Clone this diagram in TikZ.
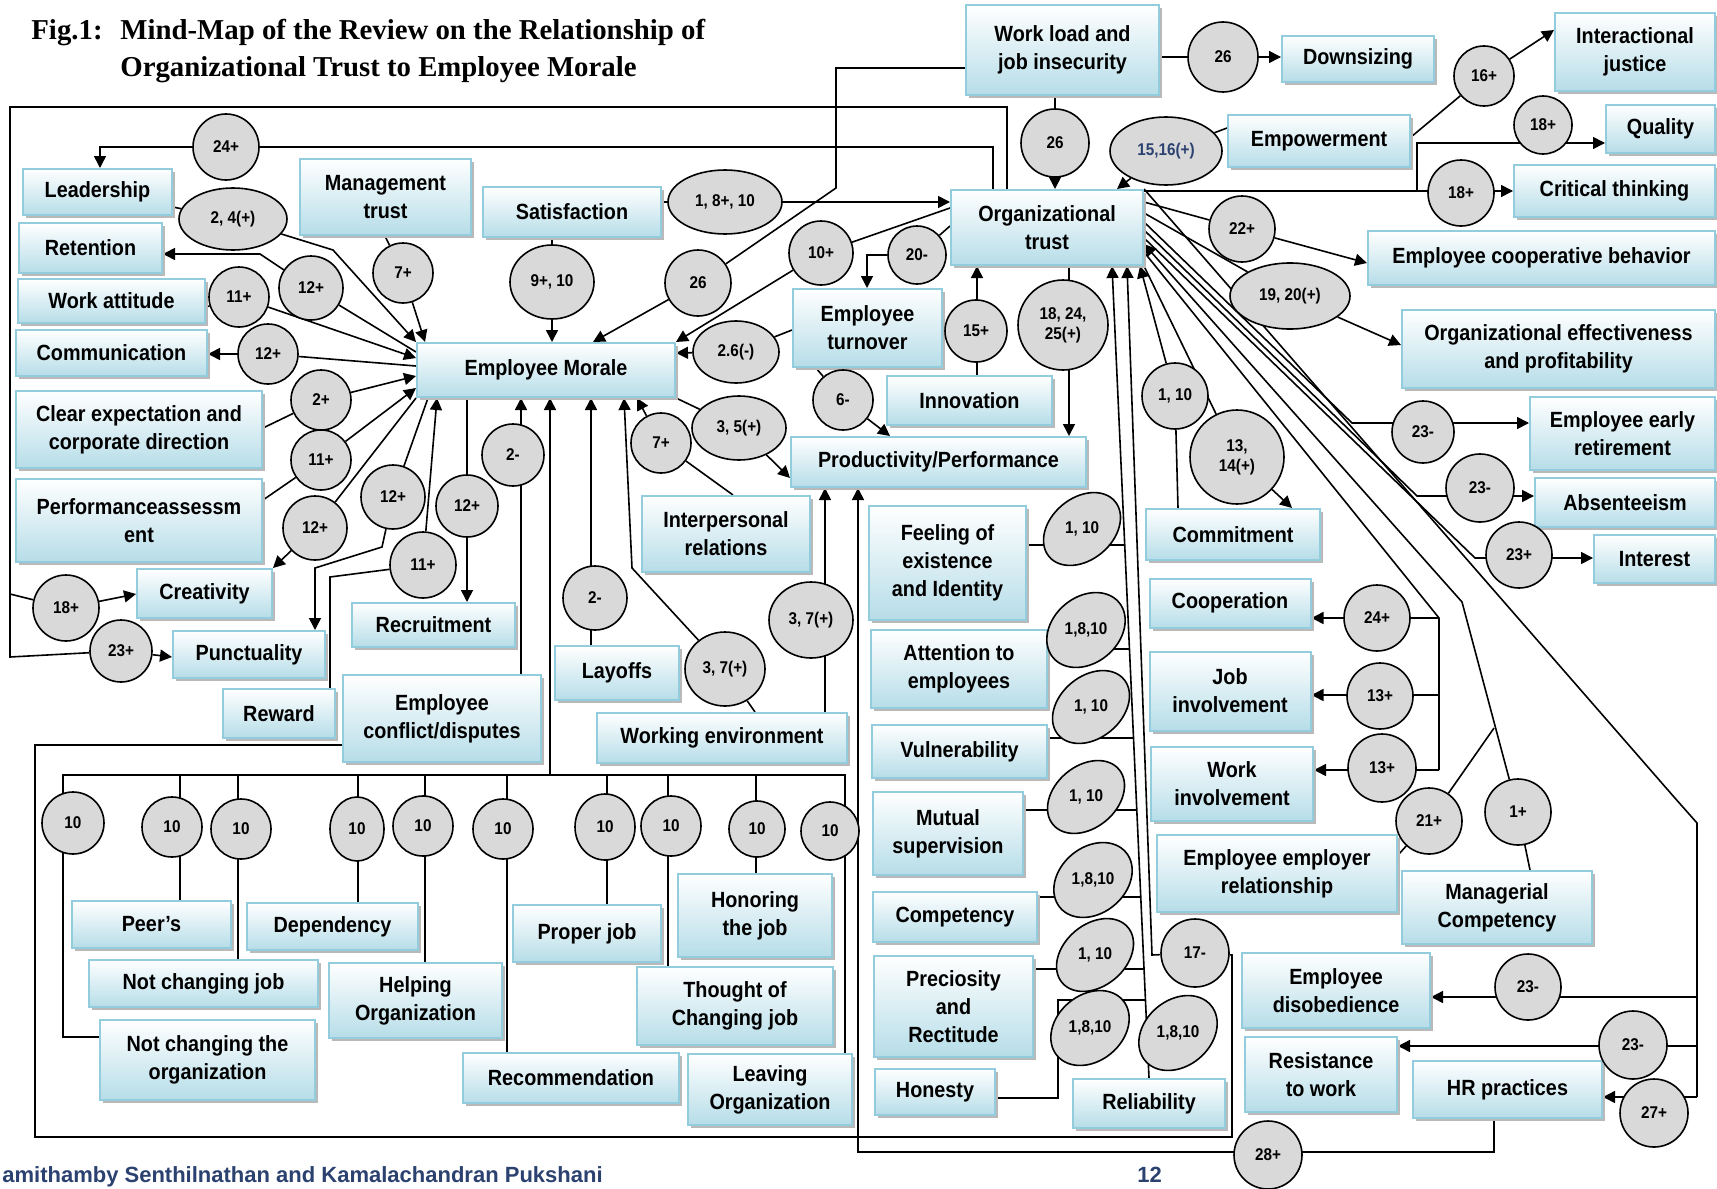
\documentclass[tikz,border=0pt]{standalone}
\usepackage{fontspec}
\setmainfont{Liberation Serif}
\newfontfamily\labelfamily[FakeStretch=0.9]{Liberation Sans}
\newfontfamily\authorfamily{Liberation Sans}
\usetikzlibrary{shapes.geometric,arrows.meta,shadows,backgrounds}
\definecolor{boxedge}{HTML}{93CDDD}
\definecolor{boxfill}{HTML}{B6DDE8}
\definecolor{ovalfill}{HTML}{D9D9D9}
\definecolor{authorblue}{HTML}{2B4170}
\newcommand\boxfont{\labelfamily\bfseries\fontsize{11}{14}\selectfont}
\newcommand\ovalfont{\labelfamily\bfseries\fontsize{8.5}{10}\selectfont}
\newcommand\titlefont{\bfseries\fontsize{14.4}{17}\selectfont}
\begin{document}
\begin{tikzpicture}[x=0.5pt,y=-0.5pt,
    box/.style={draw=boxedge,line width=1pt,top color=white,bottom color=boxfill,
      align=center,inner sep=1pt,font=\boxfont,
      general shadow={fill=gray!55,shadow xshift=1.5pt,shadow yshift=-1.5pt}},
    sz/.style 2 args={minimum width=#1*0.5pt,minimum height=#2*0.5pt},
    oval/.style={ellipse,draw,line width=0.8pt,fill=ovalfill,inner sep=0pt,
      align=center,font=\ovalfont},
    osz/.style 2 args={oval,minimum width=#1pt,minimum height=#2pt},
    ring/.style={oval,minimum size=#1pt},
    tiltoval/.style={draw,line width=0.8pt,fill=ovalfill},
    ovaltext/.style={inner sep=0pt,font=\ovalfont},
    arr/.style={-{Triangle[length=6pt,width=6pt]},line width=0.8pt},
    link/.style={line width=0.8pt}]
  \useasboundingbox (0,0) rectangle (1717,1188);

  % title and footer
  \node[anchor=base west,inner sep=0pt,font=\titlefont] (fig) at (31,40) {Fig.1:};
  \node[anchor=base west,inner sep=0pt,font=\titlefont] (title1) at (120,40) {Mind-Map of the Review on the Relationship of};
  \node[anchor=base west,inner sep=0pt,font=\titlefont] (title2) at (120,77) {Organizational Trust to Employee Morale};
  \node[anchor=base west,inner sep=0pt,text=authorblue,font=\authorfamily\bfseries\fontsize{11}{13}\selectfont] (author) at (2,1182) {amithamby Senthilnathan and Kamalachandran Pukshani};
  \node[anchor=base west,inner sep=0pt,text=authorblue,font=\authorfamily\bfseries\fontsize{11}{13}\selectfont] (page) at (1137,1182) {12};

  % left group
  \node[box,sz={149}{46}] (lead) at (97.5,192) {Leadership};
  \node[box,sz={143}{50}] (ret) at (90.5,248) {Retention};
  \node[box,sz={187}{44}] (watt) at (111.5,301) {Work attitude};
  \node[box,sz={191}{46}] (comm) at (111.5,353) {Communication};
  \node[box,sz={246}{77}] (clear) at (139,429.5) {Clear expectation and\\corporate direction};
  \node[box,sz={246}{83}] (perf) at (139,520.5) {Performanceassessm\\ent};
  \node[box,sz={135}{49}] (creat) at (204.5,593.5) {Creativity};
  \node[box,sz={152}{47}] (punct) at (249,654.5) {Punctuality};
  \node[box,sz={112}{49}] (reward) at (279,713.5) {Reward};
  \node[box,sz={171}{76}] (mtrust) at (385.5,197) {Management\\trust};
  \node[box,sz={178}{50}] (satis) at (572,212) {Satisfaction};
  \node[box,sz={258}{54}] (em) at (546,370) {Employee Morale};
  \node[box,sz={163}{44}] (recruit) at (433.5,625) {Recruitment};
  \node[box,sz={198}{87}] (conflict) at (442,718.5) {Employee\\conflict/disputes};
  \node[box,sz={124}{54}] (layoffs) at (617,673) {Layoffs};
  \node[box,sz={168}{76}] (interp) at (726,534) {Interpersonal\\relations};
  \node[box,sz={250}{50}] (workenv) at (722,738) {Working environment};

  % centre and right group
  \node[box,sz={193}{90}] (wload) at (1062.5,50) {Work load and\\job insecurity};
  \node[box,sz={152}{46}] (down) at (1358,59) {Downsizing};
  \node[box,sz={192}{75}] (otrust) at (1047,227.5) {Organizational\\trust};
  \node[box,sz={182}{52}] (empow) at (1319,141) {Empowerment};
  \node[box,sz={149}{78}] (turnover) at (867.5,328) {Employee\\turnover};
  \node[box,sz={165}{49}] (innov) at (969.5,400.5) {Innovation};
  \node[box,sz={295}{50}] (prod) at (938.5,462) {Productivity/Performance};
  \node[box,sz={160}{78}] (ijust) at (1635,52) {Interactional\\justice};
  \node[box,sz={109}{48}] (quality) at (1660.5,129) {Quality};
  \node[box,sz={201}{52}] (crit) at (1614.5,191) {Critical thinking};
  \node[box,sz={347}{54}] (coop) at (1541.5,258) {Employee cooperative behavior};
  \node[box,sz={313}{78}] (oeff) at (1558.5,349) {Organizational effectiveness\\and profitability};
  \node[box,sz={185}{73}] (early) at (1622.5,433.5) {Employee early\\retirement};
  \node[box,sz={180}{49}] (absent) at (1625,502.5) {Absenteeism};
  \node[box,sz={121}{48}] (interest) at (1654.5,559) {Interest};
  \node[box,sz={174}{51}] (commit) at (1233,534.5) {Commitment};
  \node[box,sz={161}{49}] (cooper) at (1230,603) {Cooperation};
  \node[box,sz={161}{79}] (jobinv) at (1230,691) {Job\\involvement};
  \node[box,sz={162}{74}] (workinv) at (1232,784) {Work\\involvement};
  \node[box,sz={240}{77}] (eer) at (1277,873.5) {Employee employer\\relationship};
  \node[box,sz={190}{73}] (mgr) at (1497,907.5) {Managerial\\Competency};
  \node[box,sz={188}{75}] (disob) at (1336,990.5) {Employee\\disobedience};
  \node[box,sz={152}{75}] (resist) at (1321,1074.5) {Resistance\\to work};
  \node[box,sz={189}{57}] (hr) at (1507.5,1089.5) {HR practices};
  \node[box,sz={157}{114}] (feel) at (947.5,563) {Feeling of\\existence\\and Identity};
  \node[box,sz={176}{78}] (attn) at (959,669) {Attention to\\employees};
  \node[box,sz={175}{53}] (vuln) at (959.5,751.5) {Vulnerability};
  \node[box,sz={150}{83}] (mutual) at (948,833.5) {Mutual\\supervision};
  \node[box,sz={164}{50}] (compet) at (955,917) {Competency};
  \node[box,sz={159}{101}] (prec) at (953.5,1006.5) {Preciosity\\and\\Rectitude};
  \node[box,sz={120}{46}] (honest) at (935,1092) {Honesty};
  \node[box,sz={152}{49}] (reliab) at (1149,1103.5) {Reliability};

  % bottom group
  \node[box,sz={159}{47}] (peers) at (151.5,924.5) {Peer’s};
  \node[box,sz={171}{47}] (depend) at (332.5,926.5) {Dependency};
  \node[box,sz={229}{47}] (notjob) at (203.5,983.5) {Not changing job};
  \node[box,sz={215}{80}] (notorg) at (207.5,1060) {Not changing the\\organization};
  \node[box,sz={173}{75}] (helping) at (415.5,1000.5) {Helping\\Organization};
  \node[box,sz={148}{57}] (properjob) at (587,933.5) {Proper job};
  \node[box,sz={154}{83}] (honor) at (755,915.5) {Honoring\\the job};
  \node[box,sz={196}{78}] (thought) at (735,1006) {Thought of\\Changing job};
  \node[box,sz={216}{50}] (recomm) at (571,1078) {Recommendation};
  \node[box,sz={164}{71}] (leaving) at (770,1089.5) {Leaving\\Organization};

  % labels of the relations
  \node[ring=33] (e24) at (226,147) {24+};
  \node[osz={54}{31}] (e24b) at (233,219) {2, 4(+)};
  \node[ring=32] (e12r) at (311,288) {12+};
  \node[ring=30] (e11w) at (239,297) {11+};
  \node[ring=30] (e12c) at (268,354) {12+};
  \node[ring=30] (e7m) at (403,273) {7+};
  \node[ring=30] (e2c) at (321,400) {2+};
  \node[ring=30] (e11p) at (321,460) {11+};
  \node[ring=32] (e12cr) at (315,528) {12+};
  \node[ring=33] (e18) at (66,608) {18+};
  \node[ring=31] (e23p) at (121,651) {23+};
  \node[ring=32] (e12pu) at (393,497) {12+};
  \node[ring=33] (e11r) at (423,565) {11+};
  \node[ring=31] (e12re) at (467,506) {12+};
  \node[ring=31] (e2cf) at (513,455) {2-};
  \node[ring=32] (e2l) at (595,598) {2-};
  \node[osz={40}{37}] (e37a) at (725,669) {3, 7(+)};
  \node[osz={42}{38}] (e37b) at (811,620) {3, 7(+)};
  \node[ring=30] (e7i) at (661,443) {7+};
  \node[osz={47}{32}] (e35) at (739,428) {3, 5(+)};
  \node[ring=33] (e26a) at (698,283) {26};
  \node[osz={42}{37}] (e910) at (552,282) {9+, 10};
  \node[osz={57}{32}] (e1810) at (725,202) {1, 8+, 10};
  \node[ring=32] (e10p) at (821,253) {10+};
  \node[osz={43}{31}] (e26neg) at (736,352) {2.6(-)};
  \node[ring=29] (e20) at (917,255) {20-};
  \node[ring=30] (e6) at (843,400) {6-};
  \node[ring=31] (e15) at (976,331) {15+};
  \node[ring=45] (e182425) at (1063,325) {18, 24,\\25(+)};
  \node[ring=34] (e26b) at (1055,143) {26};
  \node[ring=35] (e26c) at (1223,57) {26};
  \node[osz={56}{34},text=authorblue] (e1516) at (1166,151) {15,16(+)};
  \node[ring=30] (e16) at (1484,76) {16+};
  \node[ring=29] (e18q) at (1543,125) {18+};
  \node[ring=33] (e18c) at (1461,193) {18+};
  \node[ring=33] (e22) at (1242,229) {22+};
  \node[osz={60}{33}] (e1920) at (1290,296) {19, 20(+)};
  \node[ring=33] (e110c) at (1175,396) {1, 10};
  \node[ring=47] (e1314) at (1237,457) {13,\\14(+)};
  \node[ring=31] (e23e) at (1423,432) {23-};
  \node[ring=34] (e23a) at (1480,488) {23-};
  \node[ring=33] (e23i) at (1519,555) {23+};
  \node[ring=33] (e24co) at (1377,618) {24+};
  \node[ring=33] (e13j) at (1380,696) {13+};
  \node[ring=34] (e13w) at (1382,768) {13+};
  \node[ring=33] (e21) at (1429,821) {21+};
  \node[ring=33] (e1) at (1518,812) {1+};
  \node[ring=33] (e23d) at (1528,987) {23-};
  \node[ring=34] (e23r) at (1633,1045) {23-};
  \node[ring=34] (e27) at (1654,1113) {27+};
  \node[ring=34] (e28) at (1268,1155) {28+};
  \node[ring=34] (e17) at (1195,953) {17-};

  % tilted labels beside the attribute boxes
  \draw[tiltoval,rotate around={40:(1082,529)}] (1082,529) ellipse [x radius=43,y radius=31];
  \node[ovaltext] (t1) at (1082,529) {1, 10};
  \draw[tiltoval,rotate around={40:(1086,630)}] (1086,630) ellipse [x radius=43,y radius=33];
  \node[ovaltext] (t2) at (1086,630) {1,8,10};
  \draw[tiltoval,rotate around={40:(1091,707)}] (1091,707) ellipse [x radius=43,y radius=31];
  \node[ovaltext] (t3) at (1091,707) {1, 10};
  \draw[tiltoval,rotate around={40:(1086,797)}] (1086,797) ellipse [x radius=43,y radius=31];
  \node[ovaltext] (t4) at (1086,797) {1, 10};
  \draw[tiltoval,rotate around={40:(1093,880)}] (1093,880) ellipse [x radius=43,y radius=33];
  \node[ovaltext] (t5) at (1093,880) {1,8,10};
  \draw[tiltoval,rotate around={40:(1095,955)}] (1095,955) ellipse [x radius=43,y radius=31];
  \node[ovaltext] (t6) at (1095,955) {1, 10};
  \draw[tiltoval,rotate around={40:(1090,1028)}] (1090,1028) ellipse [x radius=43,y radius=33];
  \node[ovaltext] (t7) at (1090,1028) {1,8,10};
  \draw[tiltoval,rotate around={40:(1178,1033)}] (1178,1033) ellipse [x radius=43,y radius=33];
  \node[ovaltext] (t8) at (1178,1033) {1,8,10};

  % the row of tens
  \node[ring=31] (n1) at (73,823) {10};
  \node[ring=30] (n2) at (172,827) {10};
  \node[ring=30] (n3) at (241,829) {10};
  \node[osz={27}{32}] (n4) at (357,829) {10};
  \node[ring=30] (n5) at (423,826) {10};
  \node[ring=30] (n6) at (503,829) {10};
  \node[osz={30}{33}] (n7) at (605,827) {10};
  \node[ring=30] (n8) at (671,826) {10};
  \node[ring=28] (n9) at (757,829) {10};
  \node[ring=29] (n10) at (830,831) {10};

  \begin{scope}[on background layer]
    % frames round the left group
    \draw[arr] (otrust.north -| 1007,0) -- (1007,107) -- (10,107) -- (10,657) -- (e23p) -- (punct.west |- 0,657);
    \draw[arr] (10,594) -- (e18) -- (creat.west |- 0,594);
    \draw[arr] (otrust.north -| 993,0) -- (993,147) -- (e24) -- (100,147) -- (lead.north -| 100,0);

    % into and out of employee morale
    \draw[arr] (lead) -- (e24b) -- (333,250) -- (em.north west);
    \draw[arr] (em.west |- 0,352) -- (e12r) -- (260,254) -- (ret.east |- 0,254);
    \draw[arr] (watt.east |- 0,307) -- (e11w) -- (em.west |- 0,358);
    \draw[arr] (em.west |- 0,366) -- (e12c) -- (comm.east |- e12c);
    \draw[arr] (clear.east |- 0,428) -- (e2c) -- (em.west |- 0,376);
    \draw[arr] (perf.east |- 0,500) -- (e11p) -- (em.west |- 0,388);
    \draw[arr] (em.south west) -- (e12cr) -- (creat.north east);
    \draw[arr] (em.south -| 428,0) -- (e12pu) -- (382,547) -- (315,568) -- (punct.north -| 315,0);
    \draw[arr] (reward.north -| 330,0) -- (330,577) -- (e11r) -- (em.south -| 437,0);
    \draw[arr] (em.south -| 467,0) -- (recruit.north -| 467,0);
    \draw[arr] (mtrust.south -| 385,0) -- (e7m) -- (em.north -| 425,0);
    \draw[arr] (satis.south -| 552,0) -- (em.north -| 552,0);
    \draw[arr] (wload.west |- 0,68) -- (836,68) -- (836,188) -- (e26a) -- (em.north -| 593,0);
    \draw[arr] (satis.east |- e1810) -- (otrust.west |- e1810);
    \draw[arr] (otrust.west |- 0,208) -- (e10p) -- (em.north east);
    \draw[arr] (otrust.west |- 0,226) -- (e20) -- (867,255) -- (turnover.north -| 867,0);
    \draw[arr] (turnover.west |- 0,330) -- (e26neg) -- (em.east |- 0,353);
    \draw[arr] (turnover.south -| 816,0) -- (e6) -- (prod.north -| 890,0);
    \draw[arr] (innov.north -| 977,0) -- (otrust.south -| 977,0);
    \draw[arr] (otrust.south -| 1069,0) -- (prod.north -| 1069,0);
    \draw[arr] (em.south east) -- (e35) -- (prod.west |- 0,478);
    \draw[arr] (interp.north -| 733,0) -- (e7i) -- (em.south -| 637,0);
    \draw[arr] (layoffs.north -| 591,0) -- (em.south -| 591,0);
    \draw[arr] (workenv.north -| 755,0) -- (e37a) -- (632,568) -- (em.south -| 624,0);
    \draw[arr] (workenv.north -| 825,0) -- (prod.south -| 825,0);
    \draw[arr] (conflict.north -| 521,0) -- (em.south -| 521,0);

    % the row of tens
    \draw[link] (notorg.west |- 0,1037) -| (63,775) -- (845,775) -- (leaving.north -| 845,0);
    \draw[arr] (550,775) -- (em.south -| 550,0);
    \foreach \x/\b in {180/peers,238/notjob,358/depend,425/helping,507/recomm,607/properjob,668/thought,756/honor}
      \draw[link] (\x,775) -- (\b.north -| \x,0);
    \draw[arr] (conflict.west |- 0,745) -| (35,1137) -| (1232,955) -- (e17) -- (1152,955) -- (otrust.south -| 1127,0);

    % round organizational trust
    \draw[arr] (wload.south -| 1055,0) -- (otrust.north -| 1055,0);
    \draw[arr] (wload.east |- e26c) -- (down.west |- e26c);
    \draw[arr] (empow.west |- 0,128) -- (e1516) -- (otrust.north -| 1117,0);
    \draw[arr] (empow.east |- 0,137) -- (e16) -- (ijust.west |- 0,30);
    \draw[arr] (otrust.east |- 0,191) -- (crit.west |- 0,191);
    \draw[arr] (1417,191) -- (1417,143) -- (quality.west |- 0,143);
    \draw[arr] (otrust.east |- 0,202) -- (e22) -- (coop.west |- 0,263);
    \draw[arr] (otrust.east |- 0,213) -- (e1920) -- (oeff.west |- 0,345);
    \draw[arr] (otrust.east |- 0,222) -- (1352,423) -- (early.west |- 0,423);
    \draw[arr] (otrust.east |- 0,230) -- (1417,496) -- (absent.west |- 0,496);
    \draw[arr] (otrust.east |- 0,238) -- (1475,558) -- (interest.west |- 0,558);
    \draw[link] (otrust.north east) -- (1674,797) -- (1697,823) -- (1697,1097);
    \draw[arr] (1697,997) -- (disob.east |- 0,997);
    \draw[arr] (1697,1046) -- (resist.east |- 0,1046);
    \draw[arr] (1697,1097) -- (hr.east |- 0,1097);
    \draw[arr] (mgr.north -| 1530,0) -- (e1) -- (1462,602) -- (otrust.east |- 0,244);
    \draw[link] (eer.east |- 0,855) -- (e21) -- (1494,728);
    \draw[link] (otrust.east |- 0,252) -- (1439,618) -- (1439,770);
    \draw[arr] (1439,618) -- (cooper.east |- 0,618);
    \draw[arr] (1439,695) -- (jobinv.east |- 0,695);
    \draw[arr] (1439,770) -- (workinv.east |- 0,770);
    \draw[arr] (otrust.south east) -- (e1314) -- (commit.north -| 1292,0);
    \draw[arr] (commit.north -| 1178,0) -- (e110c) -- (otrust.south -| 1140,0);
    \draw[arr] (hr.south -| 1494,0) -- (1494,1152) -- (858,1152) -- (prod.south -| 858,0);

    % attribute boxes
    \draw[arr] (reliab.north -| 1149,0) -- (otrust.south -| 1112,0);
    \draw[link] (feel.east |- 0,545) -- (1124.7,545);
    \draw[link] (attn.east |- 0,649) -- (1129.4,649);
    \draw[link] (vuln.east |- 0,738) -- (1133.5,738);
    \draw[link] (mutual.east |- 0,810) -- (1136.7,810);
    \draw[link] (compet.east |- 0,897) -- (1140.7,897);
    \draw[link] (prec.east |- 0,969) -- (1144,969);
    \draw[link] (honest.east |- 0,1098) -| (1058,1000) -- (1145.4,1000);
  \end{scope}
\end{tikzpicture}
\end{document}
